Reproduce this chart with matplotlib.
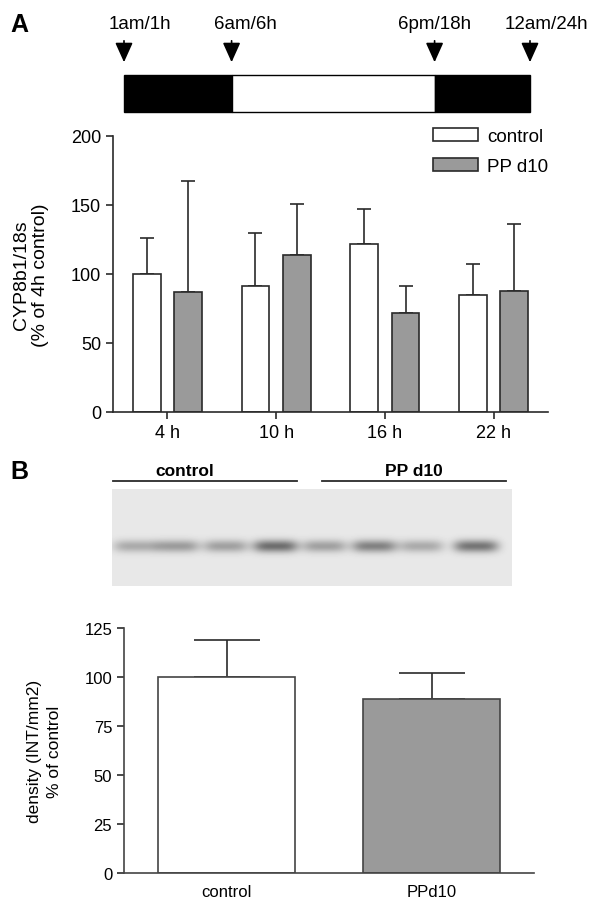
import numpy as np
import matplotlib
matplotlib.use("Agg")
from matplotlib import pyplot as plt
from matplotlib.patches import Rectangle

plt.rcParams['font.family'] = ['Liberation Sans', 'DejaVu Sans']

# --- panel A: light/dark schedule (schematic positions, 0..1 along the bar) ---
clock_labels = ["1am/1h", "6am/6h", "6pm/18h", "12am/24h"]
clock_pos = [0.0, 0.265, 0.765, 1.0]
label_pos = [0.04, 0.30, 0.765, 1.04]
phase_fill = ["black", "white", "black"]

# --- panel A: CYP8b1/18s bars ---
times = ["4 h", "10 h", "16 h", "22 h"]
ctrl_mean = [100, 91, 122, 85]
ctrl_err = [26, 38.5, 25, 22]
pp_mean = [87, 113.5, 72, 88]
pp_err = [80.5, 37.5, 19, 48]

# --- panel B: western blot lanes ---
lane_pos = [0.47, 1.29, 2.27, 3.27, 4.25, 5.25, 6.19, 7.29]
lane_intensity = [0.24, 0.30, 0.28, 0.48, 0.28, 0.40, 0.24, 0.45]
blot_groups = ["control", "PP d10"]

# --- panel B: densitometry ---
dens_groups = ["control", "PPd10"]
dens_mean = [100, 89]
dens_err = [19, 13]

edge = "#2a2a2a"
grey = "#9a9a9a"

fig = plt.figure(figsize=(6, 9.03), dpi=100)

def px(x, y, w, h):
    # pixel box (top-left origin) -> figure fraction
    return [x / 600, 1 - (y + h) / 903, w / 600, h / 903]

fig.text(10 / 600, 1 - 32 / 903, "A", fontsize=18, fontweight="bold")
fig.text(10 / 600, 1 - 479 / 903, "B", fontsize=18, fontweight="bold")

# timeline
tl = fig.add_axes(px(124, 10, 406, 103))
tl.set_xlim(0, 1)
tl.set_ylim(0, 103)
tl.axis("off")
for i in range(3):
    tl.add_patch(Rectangle((clock_pos[i], 0), clock_pos[i + 1] - clock_pos[i], 37,
                           facecolor=phase_fill[i], edgecolor="black", lw=1.0, clip_on=False))
for lab, x, lx in zip(clock_labels, clock_pos, label_pos):
    tl.annotate("", xy=(x, 47), xytext=(x, 74),
                arrowprops=dict(arrowstyle="-|>,head_width=0.45,head_length=1.0",
                                color="black", lw=1.2, mutation_scale=12),
                annotation_clip=False)
    tl.text(lx, 80, lab, ha="center", va="bottom", fontsize=13.5, clip_on=False)

# bars A
ax = fig.add_axes(px(113, 137, 435, 276))
x = np.arange(len(times))
w = 0.255
off = 0.19
ax.bar(x - off, ctrl_mean, w, color="white", edgecolor=edge, lw=1.2, label="control", zorder=2)
ax.bar(x + off, pp_mean, w, color=grey, edgecolor=edge, lw=1.2, label="PP d10", zorder=2)
ax.errorbar(x - off, ctrl_mean, yerr=[np.zeros(4), ctrl_err], fmt="none",
            ecolor=edge, elinewidth=1.2, capsize=5, capthick=1.2, zorder=1)
ax.errorbar(x + off, pp_mean, yerr=[np.zeros(4), pp_err], fmt="none",
            ecolor=edge, elinewidth=1.2, capsize=5, capthick=1.2, zorder=1)
ax.set_xlim(-0.5, 3.5)
ax.set_ylim(0, 200)
ax.set_yticks([0, 50, 100, 150, 200])
ax.set_xticks(x)
ax.set_xticklabels(times)
ax.set_ylabel("CYP8b1/18s\n(% of 4h control)", fontsize=14, labelpad=16, linespacing=1.1)
for s in ["top", "right"]:
    ax.spines[s].set_visible(False)
for s in ["left", "bottom"]:
    ax.spines[s].set_color(edge)
    ax.spines[s].set_linewidth(1.2)
ax.tick_params(colors=edge, labelcolor="black", labelsize=13, width=1.2, length=5)
ax.legend(loc="upper right", bbox_to_anchor=(1.0, 1.03), frameon=False, fontsize=13.5,
          handlelength=2.4, handleheight=0.7, labelspacing=0.7, handletextpad=0.5,
          borderpad=0, borderaxespad=0)

# blot
bl = fig.add_axes(px(111.5, 490, 400, 97))
gx = np.linspace(0, 8, 400)
gy = np.linspace(0, 1, 97)
X, Y = np.meshgrid(gx, gy)
img = np.full(X.shape, 0.91)
for lp, li in zip(lane_pos, lane_intensity):
    img -= li * np.exp(-((X - lp) / 0.45) ** 4) * np.exp(-((Y - 0.41) / 0.065) ** 2)
bl.imshow(img, cmap="gray", vmin=0, vmax=1, extent=(0, 8, 0, 1), origin="lower",
          aspect="auto", interpolation="bilinear")
bl.set_xlim(0, 8)
bl.set_ylim(0, 1)
bl.axis("off")
for g, (a, b) in zip(blot_groups, [(0.03, 3.71), (4.21, 7.89)]):
    bl.plot([a, b], [1.08, 1.08], color=edge, lw=1.3, clip_on=False)
    bl.text((a + b) / 2 - 0.4 * (g == "control"), 1.11, g, ha="center", va="bottom",
            fontsize=12.5, fontweight="bold", clip_on=False)

# bars B
bx = fig.add_axes(px(124, 629, 410, 245))
xb = np.arange(len(dens_groups))
bx.bar(xb, dens_mean, 0.665, color=["white", grey], edgecolor="#444444", lw=1.2, zorder=2)
bx.errorbar(xb, dens_mean, yerr=[np.zeros(2), dens_err], fmt="none",
            ecolor=edge, elinewidth=1.2, capsize=24, capthick=1.2, zorder=1)
bx.set_xlim(-0.5, 1.5)
bx.set_ylim(0, 125)
bx.set_yticks([0, 25, 50, 75, 100, 125])
bx.set_xticks(xb)
bx.set_xticklabels(dens_groups)
bx.set_ylabel("density (INT/mm2)\n% of control", fontsize=12.5, labelpad=16, linespacing=1.4)
for s in ["top", "right"]:
    bx.spines[s].set_visible(False)
for s in ["left", "bottom"]:
    bx.spines[s].set_color("#444444")
    bx.spines[s].set_linewidth(1.2)
bx.tick_params(axis="y", colors=edge, labelcolor="black", labelsize=12, width=1.2, length=5)
bx.tick_params(axis="x", length=0, labelsize=12, pad=8)

fig.savefig("out.png", dpi=100)
